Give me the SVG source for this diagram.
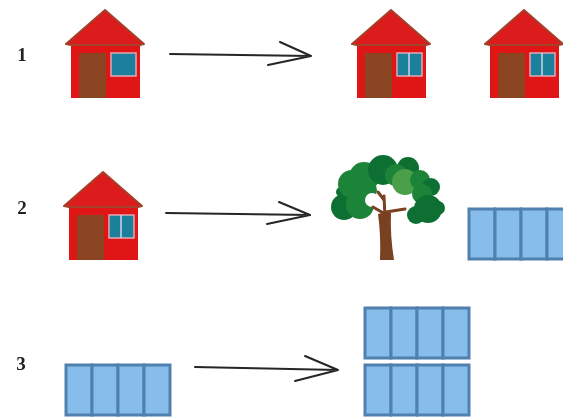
<svg xmlns="http://www.w3.org/2000/svg" width="563" height="417" viewBox="0 0 563 417">
<style>
.num{font-family:"Liberation Serif",serif;font-weight:bold;font-size:19px;fill:#222;text-anchor:middle}
.wall{fill:#e01818}.roof{fill:#dc1a1a;stroke:#a5402c;stroke-width:2;stroke-linejoin:round}
.door{fill:#8b4420}.win{fill:#1b7f9c;stroke:#e0a8b4;stroke-width:1.5}.bar{stroke:#cfd4e0;stroke-width:1.5}
.cell{fill:#86bdea;stroke:#4f80ae;stroke-width:3}
.arrow{fill:none;stroke:#262626;stroke-width:2;stroke-linecap:round;stroke-linejoin:round}
.trunk{fill:#7a3f20}.branch{fill:none;stroke:#7a3f20;stroke-width:3;stroke-linecap:round}
.dk{fill:#0b7032}.md{fill:#1f8438}.lt{fill:#4c9f48}
.soft{filter:url(#soft)}
</style>
<defs>
<filter id="soft" x="-5%" y="-5%" width="110%" height="110%"><feGaussianBlur stdDeviation="0.55"/></filter>
<g id="house">
<rect class="wall" x="-34" y="30" width="69" height="59"/>
<path class="roof" d="M0 1L-39 35L-34 36L35 36L39 35Z"/>
<rect class="door" x="-26" y="44" width="27" height="45"/>
<rect class="win" x="6" y="44" width="25" height="23"/>
</g>
<g id="panels">
<rect class="cell" x="0" y="0" width="26" height="50"/>
<rect class="cell" x="26" y="0" width="26" height="50"/>
<rect class="cell" x="52" y="0" width="26" height="50"/>
<rect class="cell" x="78" y="0" width="26" height="50"/>
</g>
</defs>
<g class="soft">
<g id="label-1"><text class="num" x="22" y="61">1</text></g>
<g id="label-2"><text class="num" x="22" y="214">2</text></g>
<g id="label-3"><text class="num" x="21" y="370">3</text></g>
<g id="house-1"><use href="#house" x="105" y="9"/></g>
<g id="house-2"><use href="#house" x="391" y="9"/><line class="bar" x1="409" y1="53" x2="409" y2="76"/></g>
<g id="house-3"><use href="#house" x="524" y="9"/><line class="bar" x1="542" y1="53" x2="542" y2="76"/></g>
<g id="house-4"><use href="#house" x="103" y="171"/><line class="bar" x1="121" y1="215" x2="121" y2="238"/></g>
<g id="tree">
<circle class="dk" cx="344" cy="207" r="13"/><circle class="md" cx="360" cy="205" r="14"/>
<circle class="dk" cx="341" cy="192" r="5"/>
<circle class="md" cx="352" cy="184" r="14"/><circle class="md" cx="364" cy="177" r="15"/>
<circle class="md" cx="367" cy="190" r="10"/>
<circle class="dk" cx="383" cy="170" r="15"/><circle class="dk" cx="408" cy="168" r="11"/>
<circle class="md" cx="396" cy="175" r="11"/>
<circle class="lt" cx="405" cy="182" r="13"/><circle class="md" cx="420" cy="180" r="10"/>
<circle class="dk" cx="431" cy="187" r="9"/><circle class="md" cx="422" cy="194" r="10"/>
<circle class="dk" cx="428" cy="209" r="14"/><circle class="dk" cx="438" cy="208" r="7"/>
<circle class="dk" cx="416" cy="215" r="9"/>
<circle cx="384" cy="193" r="7" fill="#fff"/>
<circle cx="372" cy="200" r="7" fill="#fff"/>
<circle cx="398" cy="203" r="8" fill="#fff"/>
<path class="trunk" d="M378 214Q383 212 391 213Q390 235 394 260L380 260Q381 235 378 214Z"/>
<path class="branch" d="M385 218L384 196M385 214L373 207M386 212L405 209M384 200L378 192"/>
</g>
<g id="panels-row2"><use href="#panels" x="469" y="209"/></g>
<g id="panels-left"><use href="#panels" x="66" y="365"/></g>
<g id="panels-top"><use href="#panels" x="365" y="308"/></g>
<g id="panels-bottom"><use href="#panels" x="365" y="365"/></g>
<g id="connectors">
<path class="arrow" d="M170 54L311 56M280 42L311 56L268 65"/>
<path class="arrow" d="M166 213L310 215M279 202L310 215L267 224"/>
<path class="arrow" d="M195 367L338 370M305 356L338 370L295 381"/>
</g>
</g>
</svg>
